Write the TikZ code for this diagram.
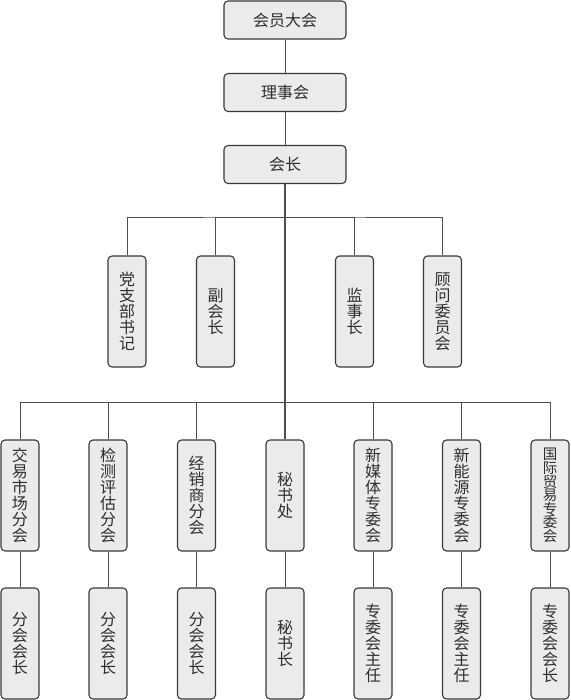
\documentclass[tikz,border=0pt]{standalone}
\usepackage{fontspec}
\setmainfont{Noto Sans CJK SC}
\usepackage{tikz}
\usetikzlibrary{positioning}
\usepackage{xcolor}
\definecolor{boxfill}{HTML}{EBEBEB}
\definecolor{boxline}{HTML}{3A3A3A}
\definecolor{ink}{HTML}{2E2E2E}

\begin{document}
\begin{tikzpicture}[x=1pt, y=-1pt,
  every node/.style={font=\fontsize{16}{16}\selectfont, text=ink},
  hbox/.style={draw=boxline, fill=boxfill, line width=1.1pt, rounded corners=4pt,
    minimum width=122pt, minimum height=38pt, inner sep=0pt},
  vbox/.style={draw=boxline, fill=boxfill, line width=1.1pt, rounded corners=4pt,
    minimum width=38pt, minimum height=111pt, inner sep=0pt, align=center},
  link/.style={draw=boxline!90, line width=1pt}]
\useasboundingbox (0,0) rectangle (570,700);
% top chain
\node[hbox] (hy) at (285,20) {会员大会};
\node[hbox] (ls) at (285,92.5) {理事会};
\node[hbox] (hz) at (285,164.5) {会长};
% second level
\node[vbox] (dz) at (127,311.5) {党\\支\\部\\书\\记};
\node[vbox] (fh) at (215.5,311.5) {副\\会\\长};
\node[vbox] (js) at (354.5,311.5) {监\\事\\长};
\node[vbox] (gw) at (442.5,311.5) {顾\\问\\委\\员\\会};
% branches
\node[vbox] (jy) at (20,495.5) {交\\易\\市\\场\\分\\会};
\node[vbox] (jc) at (108,495.5) {检\\测\\评\\估\\分\\会};
\node[vbox] (jx) at (196.5,495.5) {经\\销\\商\\分\\会};
\node[vbox] (ms) at (285,495.5) {秘\\书\\处};
\node[vbox] (xm) at (373,495.5) {新\\媒\\体\\专\\委\\会};
\node[vbox] (xn) at (461.5,495.5) {新\\能\\源\\专\\委\\会};
\node[vbox, font=\fontsize{14.5}{13.6}\selectfont] (gj) at (550,495.5)
  {国\\际\\贸\\易\\专\\委\\会};
% heads
\node[vbox] (jyh) at (20,643.5) {分\\会\\会\\长};
\node[vbox] (jch) at (108,643.5) {分\\会\\会\\长};
\node[vbox] (jxh) at (196.5,643.5) {分\\会\\会\\长};
\node[vbox] (msh) at (285,643.5) {秘\\书\\长};
\node[vbox] (xmh) at (373,643.5) {专\\委\\会\\主\\任};
\node[vbox] (xnh) at (461.5,643.5) {专\\委\\会\\主\\任};
\node[vbox] (gjh) at (550,643.5) {专\\委\\会\\会\\长};
\coordinate (m) at (285,218);
\coordinate (n) at (285,402);
% connectors
\draw[link] (hy) -- (ls);
\draw[link] (ls) -- (hz);
\draw[link, line width=1.3pt] (hz) -- (ms);
\draw[link] (dz.north) |- (m) -| (gw.north);
\draw[link] (fh.north) |- (m);
\draw[link] (js.north) |- (m);
\draw[link] (jy.north) |- (n) -| (gj.north);
\draw[link] (jc.north) |- (n);
\draw[link] (jx.north) |- (n);
\draw[link] (xm.north) |- (n);
\draw[link] (xn.north) |- (n);
\draw[link] (jy) -- (jyh);
\draw[link] (jc) -- (jch);
\draw[link] (jx) -- (jxh);
\draw[link] (ms) -- (msh);
\draw[link] (xm) -- (xmh);
\draw[link] (xn) -- (xnh);
\draw[link] (gj) -- (gjh);
\end{tikzpicture}
\end{document}
